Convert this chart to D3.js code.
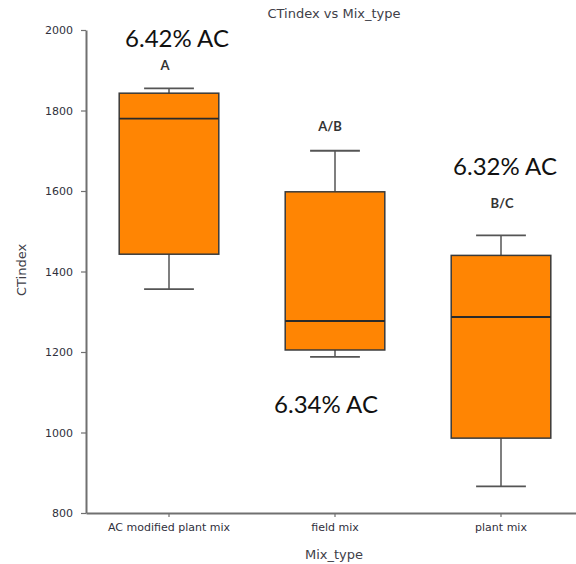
<!DOCTYPE html>
<html>
<head>
<meta charset="utf-8">
<script src="https://cdn.jsdelivr.net/npm/d3@7"></script>
<style>
  html, body { margin: 0; padding: 0; background: #fff; }
  svg { display: block; }
</style>
</head>
<body>
<svg id="chart" width="576" height="564"></svg>
<script>
// CTindex distribution per mix type
const categories = ["AC modified plant mix", "field mix", "plant mix"];
const whiskerLow  = [1356, 1188, 866];
const q1          = [1443, 1205, 986];
const median      = [1780, 1277, 1287];
const q3          = [1843, 1598, 1440];
const whiskerHigh = [1855, 1700, 1490];
const groupLetters = ["A", "A/B", "B/C"];
const acLabels = ["6.42% AC", "6.34% AC", "6.32% AC"];
const yTicks = [800, 1000, 1200, 1400, 1600, 1800, 2000];

const svg = d3.select("#chart");

const margin = { left: 86, top: 30, bottom: 513, right: 584 };

const x = d3.scaleBand()
  .domain(categories)
  .range([margin.left, margin.right])
  .paddingInner(0.4)
  .paddingOuter(0.2);

const y = d3.scaleLinear()
  .domain([800, 2000])
  .range([margin.bottom, margin.top]);

const axisColor = "#707070";
const tickText = "#30303c";

// Y axis
const yAxis = svg.append("g")
  .attr("transform", `translate(${margin.left},0)`)
  .call(d3.axisLeft(y).tickValues(yTicks).tickFormat(d3.format("d")).tickSize(5).tickPadding(8).tickSizeOuter(0));
yAxis.select(".domain").attr("stroke", axisColor).attr("stroke-width", 2);
yAxis.selectAll(".tick line").attr("stroke", axisColor).attr("stroke-width", 1.2);
yAxis.selectAll(".tick text")
  .attr("fill", tickText)
  .style("font-family", "DejaVu Sans, Verdana, sans-serif")
  .style("font-size", "11px");

// X axis
const xAxis = svg.append("g")
  .attr("transform", `translate(0,${margin.bottom})`)
  .call(d3.axisBottom(x).tickSize(4).tickSizeOuter(0));
xAxis.select(".domain").attr("stroke", axisColor).attr("stroke-width", 2);
xAxis.selectAll(".tick line").attr("stroke", axisColor).attr("stroke-width", 1.2);
xAxis.selectAll(".tick text")
  .attr("y", 18)
  .attr("dy", 0)
  .attr("fill", tickText)
  .style("font-family", "DejaVu Sans, Verdana, sans-serif")
  .style("font-size", "11px");

// Title and axis titles
svg.append("text")
  .attr("x", 334).attr("y", 18)
  .attr("text-anchor", "middle")
  .attr("fill", "#404048")
  .style("font-family", "DejaVu Sans, Verdana, sans-serif")
  .style("font-size", "13px")
  .text("CTindex vs Mix_type");

svg.append("text")
  .attr("transform", "translate(26,270) rotate(-90)")
  .attr("text-anchor", "middle")
  .attr("fill", "#404048")
  .style("font-family", "DejaVu Sans, Verdana, sans-serif")
  .style("font-size", "13px")
  .text("CTindex");

svg.append("text")
  .attr("x", 334).attr("y", 559)
  .attr("text-anchor", "middle")
  .attr("fill", "#404048")
  .style("font-family", "DejaVu Sans, Verdana, sans-serif")
  .style("font-size", "13px")
  .text("Mix_type");

// Boxes
const rows = categories.map((c, i) => ({
  c, lo: whiskerLow[i], q1: q1[i], med: median[i], q3: q3[i], hi: whiskerHigh[i]
}));

const bw = x.bandwidth();
const capW = bw * 0.5;
const g = svg.append("g");

rows.forEach(d => {
  const cx = x(d.c) + bw / 2;
  // whiskers
  g.append("line").attr("x1", cx).attr("x2", cx).attr("y1", y(d.q3)).attr("y2", y(d.hi))
    .attr("stroke", "#555").attr("stroke-width", 1.5);
  g.append("line").attr("x1", cx).attr("x2", cx).attr("y1", y(d.q1)).attr("y2", y(d.lo))
    .attr("stroke", "#555").attr("stroke-width", 1.5);
  g.append("line").attr("x1", cx - capW / 2).attr("x2", cx + capW / 2).attr("y1", y(d.hi)).attr("y2", y(d.hi))
    .attr("stroke", "#555").attr("stroke-width", 1.8);
  g.append("line").attr("x1", cx - capW / 2).attr("x2", cx + capW / 2).attr("y1", y(d.lo)).attr("y2", y(d.lo))
    .attr("stroke", "#555").attr("stroke-width", 1.8);
  // box
  g.append("rect")
    .attr("x", x(d.c)).attr("width", bw)
    .attr("y", y(d.q3)).attr("height", y(d.q1) - y(d.q3))
    .attr("fill", "#ff8503")
    .attr("stroke", "#3a3a3a").attr("stroke-width", 1.5);
  // median
  g.append("line").attr("x1", x(d.c)).attr("x2", x(d.c) + bw).attr("y1", y(d.med)).attr("y2", y(d.med))
    .attr("stroke", "#2a2a2a").attr("stroke-width", 1.8);
});

// Group letters and AC content notes
const letterPos = [[165, 70], [330, 131], [502, 208]];
const acPos = [[177, 47], [326, 413], [505, 175]];

groupLetters.forEach((t, i) => {
  svg.append("text")
    .attr("x", letterPos[i][0]).attr("y", letterPos[i][1])
    .attr("text-anchor", "middle")
    .attr("fill", "#333")
    .style("font-family", "Lato, 'Open Sans', sans-serif")
    .style("font-weight", "bold")
    .style("font-size", "13px")
    .text(t);
});

acLabels.forEach((t, i) => {
  svg.append("text")
    .attr("x", acPos[i][0]).attr("y", acPos[i][1])
    .attr("text-anchor", "middle")
    .attr("fill", "#111")
    .style("font-family", "Lato, 'Open Sans', sans-serif")
    .style("font-size", "24px")
    .text(t);
});
</script>
</body>
</html>
